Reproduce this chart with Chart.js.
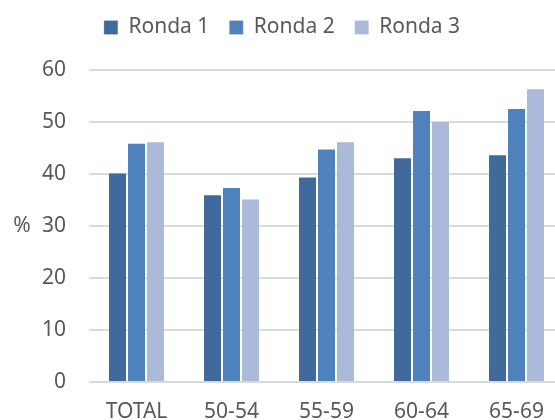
<!DOCTYPE html>
<html lang="es">
<head>
  <meta charset="UTF-8">
  <title>Ronda 1-3 por edad</title>
  <style>
    html, body { margin: 0; padding: 0; background: #fff; overflow: hidden; }
    #wrap { width: 574px; height: 420px; }
  </style>
</head>
<body>
  <div id="wrap"><canvas id="chart"></canvas></div>

  <script src="https://cdn.jsdelivr.net/npm/chart.js"></script>
  <script>
    // datos
    const categories = ['TOTAL', '50-54', '55-59', '60-64', '65-69'];
    const ronda1 = [40.3, 36.1, 39.5, 43.2, 43.8];
    const ronda2 = [46.0, 37.5, 44.9, 52.3, 52.7];
    const ronda3 = [46.3, 35.3, 46.3, 50.2, 56.5];
    const seriesNames = ['Ronda 1', 'Ronda 2', 'Ronda 3'];
    const yTicks = [0, 10, 20, 30, 40, 50, 60];

    const textColor = '#595959';
    const font = { family: '"Noto Sans", "Open Sans", sans-serif', size: 21 };

    // espacio extra debajo de la leyenda
    const legendGap = {
      id: 'legendGap',
      beforeInit(chart) {
        const fit = chart.legend.fit;
        chart.legend.fit = function () {
          fit.bind(chart.legend)();
          this.height += 22;
        };
      }
    };

    // etiqueta "%" del eje Y (sin rotar)
    const yTitle = {
      id: 'yTitle',
      afterDraw(chart) {
        const { ctx, chartArea } = chart;
        ctx.save();
        ctx.font = `${font.size}px ${font.family}`;
        ctx.fillStyle = textColor;
        ctx.textAlign = 'center';
        ctx.textBaseline = 'middle';
        ctx.fillText('%', 22, (chartArea.top + chartArea.bottom) / 2);
        ctx.restore();
      }
    };

    const mkSet = (label, data, color) => ({
      label,
      data,
      backgroundColor: color,
      borderColor: 'rgba(255,255,255,0.2)',
      borderWidth: 1,
      categoryPercentage: 0.6,
      barPercentage: 1.0
    });

    new Chart(document.getElementById('chart'), {
      type: 'bar',
      data: {
        labels: categories,
        datasets: [
          mkSet(seriesNames[0], ronda1, '#406A9C'),
          mkSet(seriesNames[1], ronda2, '#4F81BD'),
          mkSet(seriesNames[2], ronda3, '#AABAD8')
        ]
      },
      plugins: [legendGap, yTitle],
      options: {
        responsive: true,
        maintainAspectRatio: false,
        animation: false,
        layout: { padding: { top: -3, right: 10, left: 0, bottom: 0 } },
        plugins: {
          legend: {
            position: 'top',
            labels: {
              font,
              color: textColor,
              boxWidth: 14,
              boxHeight: 14,
              padding: 20
            }
          },
          tooltip: { enabled: false },
          title: { display: false }
        },
        scales: {
          x: {
            grid: { display: false, drawTicks: false },
            border: { display: false },
            ticks: { font, color: textColor, padding: 17 },
            afterFit: s => { s.height = 38; }
          },
          y: {
            min: 0,
            max: 60,
            afterBuildTicks: s => { s.ticks = yTicks.map(v => ({ value: v })); },
            grid: { color: '#D9D9D9', lineWidth: 2, drawTicks: false },
            border: { display: false },
            ticks: { font, color: textColor, padding: 23 },
            afterFit: s => { s.width = 89; }
          }
        }
      }
    });
  </script>
</body>
</html>
